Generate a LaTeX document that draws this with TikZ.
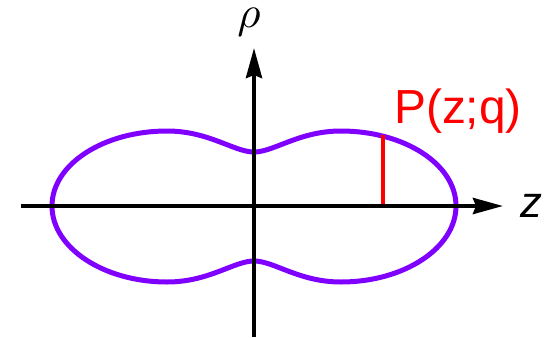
\documentclass[tikz,border=0pt]{standalone}
\usepackage{fontspec}
\setmainfont{Liberation Sans}
\usetikzlibrary{arrows.meta}
\definecolor{violetline}{RGB}{127,0,255}

\begin{document}
\begin{tikzpicture}[x=1bp, y=1bp,
    % 样式定义
    axisline/.style={line width=4bp, -{Stealth[length=30bp, width=16bp, inset=3bp]}},
    profile/.style={line width=5bp, draw=violetline},
    cut/.style={line width=4bp, draw=red}
]
    \useasboundingbox (-254,-131) rectangle (296,206);

    % ▼▼▼【坐标区】▼▼▼
    % --- 轮廓 (Profile) ---
    \coordinate (left_end)     at (-202,   0);
    \coordinate (top_left)     at (-87,   75);
    \coordinate (neck_top)     at (0,     54);
    \coordinate (top_right)    at (87,    75);
    \coordinate (right_end)    at (202,    0);
    \coordinate (bottom_right) at (87,   -76);
    \coordinate (neck_bottom)  at (0,    -55);
    \coordinate (bottom_left)  at (-87,  -76);

    % --- 坐标轴 (Axes) ---
    \coordinate (z_start)   at (-233,   0);
    \coordinate (z_end)     at (249,    0);
    \coordinate (rho_start) at (0,   -131);
    \coordinate (rho_end)   at (0,    158);

    % --- 红线 P(z;q) ---
    \coordinate (p_base) at (129,  0);
    \coordinate (p_top)  at (129, 71);

    % ▼▼▼【连线区】▼▼▼
    \draw[profile] (left_end)
        .. controls (-202,42) and (-150,75) .. (top_left)
        .. controls (-45,75) and (-20,54) .. (neck_top)
        .. controls (20,54) and (45,75) .. (top_right)
        .. controls (150,75) and (202,42) .. (right_end)
        .. controls (202,-42) and (150,-76) .. (bottom_right)
        .. controls (45,-76) and (20,-55) .. (neck_bottom)
        .. controls (-20,-55) and (-45,-76) .. (bottom_left)
        .. controls (-150,-76) and (-202,-42) .. cycle;

    \draw[cut] (p_base) -- (p_top);

    \draw[axisline] (z_start) -- (z_end);
    \draw[axisline] (rho_start) -- (rho_end);

    % 标签
    \node[inner sep=0pt, scale=4.5] (rho_label) at (-5,184) {$\rho$};
    \node[inner sep=0pt] (z_label) at (277,0) {\fontsize{44}{48}\selectfont\itshape z};
    \node[anchor=base, inner sep=0pt, text=red] (p_label) at (204,83) {\fontsize{48}{52}\selectfont P(z;q)};

\end{tikzpicture}
\end{document}
